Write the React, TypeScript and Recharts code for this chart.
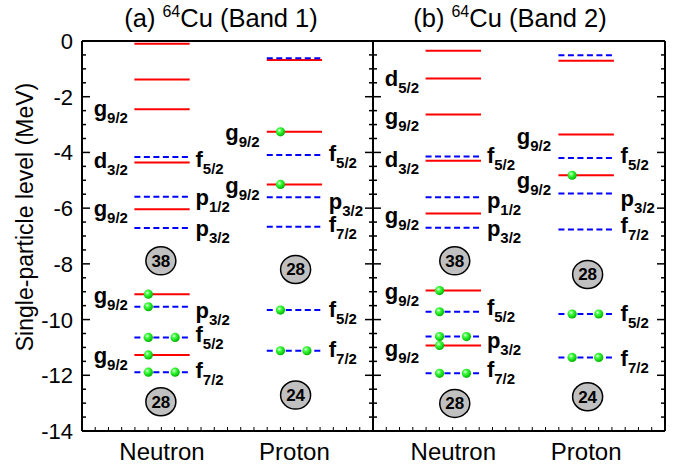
import React from 'react';
import { ComposedChart, XAxis, YAxis, ReferenceLine, Scatter } from 'recharts';

const FONT = '"Liberation Sans", Arial, Helvetica, sans-serif';

// ---------- axes ----------
const yDomain: [number, number] = [-14, 0];
const yTicks = [0, -0.5, -1, -1.5, -2, -2.5, -3, -3.5, -4, -4.5, -5, -5.5, -6, -6.5, -7, -7.5, -8, -8.5, -9, -9.5, -10, -10.5, -11, -11.5, -12, -12.5, -13, -13.5, -14];
const xDomain: [number, number] = [0, 100];
const xMinorTicks = [0, 4.545, 9.091, 13.636, 18.182, 22.727, 27.273, 31.818, 36.364, 40.909, 45.455, 50, 54.545, 59.091, 63.636, 68.182, 72.727, 77.273, 81.818, 86.364, 90.909, 95.455, 100];
const categories = ['Neutron', 'Proton'];
const categoryX = [27.5, 73];

// level spans and fixed slots (in panel x units)
const neutronSpan = [18, 37];
const protonSpan = [63.5, 82.5];
const neutronDotX = [22.8, 32.0];
const protonDotX = [68.2, 77.3];
const labelX = { neutronLeft: 15.8, neutronRight: 39.0, protonLeft: 61.0, protonRight: 84.8 };

// ---------- Band 1 ----------
const b1NeutronSolid = [-0.1, -1.38, -2.45, -4.36, -6.04, -9.09, -11.27];
const b1NeutronDashed = [-4.16, -5.59, -6.71, -9.54, -10.64, -11.89];
const b1ProtonSolid = [-0.68, -3.26, -5.15];
const b1ProtonDashed = [-0.62, -4.09, -5.61, -6.67, -9.66, -11.12];
const b1NeutronDots: [number, number][] = [[-9.09, 1], [-9.54, 1], [-10.64, 2], [-11.27, 1], [-11.89, 2]];
const b1ProtonDots: [number, number][] = [[-3.26, 1], [-5.15, 1], [-9.66, 1], [-11.12, 2]];
const b1NeutronLeft: [string, string, number][] = [['g', '9/2', -2.48], ['d', '3/2', -4.34], ['g', '9/2', -6.07], ['g', '9/2', -9.18], ['g', '9/2', -11.33]];
const b1NeutronRight: [string, string, number][] = [['f', '5/2', -4.30], ['p', '1/2', -5.67], ['p', '3/2', -6.78], ['p', '3/2', -9.73], ['f', '5/2', -10.58], ['f', '7/2', -11.87]];
const b1ProtonLeft: [string, string, number][] = [['g', '9/2', -3.35], ['g', '9/2', -5.23]];
const b1ProtonRight: [string, string, number][] = [['f', '5/2', -4.08], ['p', '3/2', -5.82], ['f', '7/2', -6.64], ['f', '5/2', -9.68], ['f', '7/2', -11.12]];
const b1Magic: [number, number, string][] = [[27.1, -7.89, '38'], [27.1, -12.95, '28'], [73.4, -8.2, '28'], [73.4, -12.71, '24']];

// ---------- Band 2 ----------
const b2NeutronSolid = [-0.35, -1.35, -2.64, -4.30, -6.19, -8.96, -10.93];
const b2NeutronDashed = [-4.15, -5.61, -6.70, -9.72, -10.61, -11.93];
const b2ProtonSolid = [-0.71, -3.36, -4.82];
const b2ProtonDashed = [-0.51, -4.20, -5.47, -6.77, -9.80, -11.36];
const b2NeutronDots: [number, number][] = [[-8.96, 1], [-9.72, 1], [-10.61, 2], [-10.93, 1], [-11.93, 2]];
const b2ProtonDots: [number, number][] = [[-4.82, 1], [-9.80, 2], [-11.36, 2]];
const b2NeutronLeft: [string, string, number][] = [['d', '5/2', -1.40], ['g', '9/2', -2.78], ['d', '3/2', -4.30], ['g', '9/2', -6.31], ['g', '9/2', -9.06], ['g', '9/2', -11.09]];
const b2NeutronRight: [string, string, number][] = [['f', '5/2', -4.15], ['p', '1/2', -5.77], ['p', '3/2', -6.78], ['f', '5/2', -9.62], ['p', '3/2', -10.79], ['f', '7/2', -11.83]];
const b2ProtonLeft: [string, string, number][] = [['g', '9/2', -3.49], ['g', '9/2', -5.05]];
const b2ProtonRight: [string, string, number][] = [['f', '5/2', -4.18], ['p', '3/2', -5.71], ['f', '7/2', -6.69], ['f', '5/2', -9.84], ['f', '7/2', -11.45]];
const b2Magic: [number, number, string][] = [[28.0, -7.89, '38'], [28.0, -13.01, '28'], [73.5, -8.38, '28'], [73.5, -12.77, '24']];

// ---------- shapes ----------
const DotShape = (p: any) => {
  const { cx, cy } = p;
  return (
    <g>
      <defs>
        <radialGradient id="greenBall" cx="38%" cy="35%" r="65%">
          <stop offset="0%" stopColor="#eaffea" />
          <stop offset="35%" stopColor="#3dff3d" />
          <stop offset="100%" stopColor="#00b400" />
        </radialGradient>
      </defs>
      <circle cx={cx} cy={cy} r={4.6} fill="url(#greenBall)" />
    </g>
  );
};

const LabelShape = (p: any) => {
  const { cx, cy, payload } = p;
  return (
    <text x={cx} y={cy + 6} textAnchor={payload.anchor} fontFamily={FONT} fontWeight="bold" fill="#000">
      <tspan fontSize={22}>{payload.m}</tspan>
      <tspan fontSize={15} dy={7}>{payload.s}</tspan>
    </text>
  );
};

const MagicShape = (p: any) => {
  const { cx, cy, payload } = p;
  return (
    <g>
      <ellipse cx={cx} cy={cy} rx={15} ry={14} fill="#c0c0c0" stroke="#000" strokeWidth={1.5} />
      <text x={cx} y={cy + 6} textAnchor="middle" fontFamily={FONT} fontWeight="bold" fontSize={17} fill="#000">{payload.n}</text>
    </g>
  );
};

const makeYTick = (dir: number, withLabels: boolean) => (props: any) => {
  const { x, y, payload } = props;
  const v = payload.value;
  const major = Math.abs(v % 2) < 1e-6;
  const len = major ? 8 : 4;
  return (
    <g>
      <line x1={x} y1={y} x2={x + dir * len} y2={y} stroke="#000" strokeWidth={1.5} />
      {withLabels && major ? (
        <text x={x - 9} y={y + 8} textAnchor="end" fontFamily={FONT} fontSize={22} fill="#000">{v}</text>
      ) : null}
    </g>
  );
};

const makeXTick = (dir: number, withLabels: boolean) => (props: any) => {
  const { x, y, payload } = props;
  const v = payload.value;
  const idx = categoryX.indexOf(v);
  if (idx >= 0) {
    return withLabels ? (
      <text x={x} y={y + 29} textAnchor="middle" fontFamily={FONT} fontSize={24} fill="#000">{categories[idx]}</text>
    ) : <g />;
  }
  return <line x1={x} y1={y} x2={x} y2={y + dir * 4} stroke="#000" strokeWidth={1} />;
};

interface PanelProps {
  nSolid: number[]; nDashed: number[]; pSolid: number[]; pDashed: number[];
  nDots: [number, number][]; pDots: [number, number][];
  nLeft: [string, string, number][]; nRight: [string, string, number][];
  pLeft: [string, string, number][]; pRight: [string, string, number][];
  magic: [number, number, string][];
  width: number; leftW: number; rightW: number; showYLabels: boolean;
}

const Panel = (pr: PanelProps) => {
  const dots = [
    ...pr.nDots.flatMap(([y, n]) => neutronDotX.slice(0, n).map((x) => ({ x, y }))),
    ...pr.pDots.flatMap(([y, n]) => protonDotX.slice(0, n).map((x) => ({ x, y }))),
  ];
  const labels = [
    ...pr.nLeft.map(([m, s, y]) => ({ x: labelX.neutronLeft, y, m, s, anchor: 'end' })),
    ...pr.nRight.map(([m, s, y]) => ({ x: labelX.neutronRight, y, m, s, anchor: 'start' })),
    ...pr.pLeft.map(([m, s, y]) => ({ x: labelX.protonLeft, y, m, s, anchor: 'end' })),
    ...pr.pRight.map(([m, s, y]) => ({ x: labelX.protonRight, y, m, s, anchor: 'start' })),
  ];
  const magic = pr.magic.map(([x, y, n]) => ({ x, y, n }));
  const seg = (span: number[], y: number) => [{ x: span[0], y }, { x: span[1], y }] as any;
  const axisLine = { stroke: '#000', strokeWidth: 2 };
  return (
    <ComposedChart width={pr.width} height={465} margin={{ top: 40, right: 0, bottom: 0, left: 0 }}>
      <XAxis xAxisId="b" dataKey="x" type="number" domain={xDomain} allowDataOverflow orientation="bottom" height={34}
        ticks={[...xMinorTicks, ...categoryX]} interval={0} tickSize={0} tickMargin={0} tickLine={false}
        axisLine={axisLine} tick={makeXTick(-1, true)} />
      <XAxis xAxisId="t" type="number" domain={xDomain} allowDataOverflow orientation="top" height={1}
        ticks={xMinorTicks} interval={0} tickSize={0} tickMargin={0} tickLine={false}
        axisLine={axisLine} tick={makeXTick(1, false)} />
      <YAxis yAxisId="l" dataKey="y" type="number" domain={yDomain} allowDataOverflow orientation="left" width={pr.leftW}
        ticks={yTicks} interval={0} tickSize={0} tickMargin={0} tickLine={false}
        axisLine={axisLine} tick={makeYTick(1, pr.showYLabels)} />
      <YAxis yAxisId="r" type="number" domain={yDomain} allowDataOverflow orientation="right" width={pr.rightW}
        ticks={yTicks} interval={0} tickSize={0} tickMargin={0} tickLine={false}
        axisLine={axisLine} tick={makeYTick(-1, false)} />
      {pr.nSolid.map((y, i) => (
        <ReferenceLine key={'ns' + i} xAxisId="b" yAxisId="l" segment={seg(neutronSpan, y)} stroke="#ff0000" strokeWidth={2} />
      ))}
      {pr.pSolid.map((y, i) => (
        <ReferenceLine key={'ps' + i} xAxisId="b" yAxisId="l" segment={seg(protonSpan, y)} stroke="#ff0000" strokeWidth={2} />
      ))}
      {pr.nDashed.map((y, i) => (
        <ReferenceLine key={'nd' + i} xAxisId="b" yAxisId="l" segment={seg(neutronSpan, y)} stroke="#0000ff" strokeWidth={2} strokeDasharray="6 3.5" />
      ))}
      {pr.pDashed.map((y, i) => (
        <ReferenceLine key={'pd' + i} xAxisId="b" yAxisId="l" segment={seg(protonSpan, y)} stroke="#0000ff" strokeWidth={2} strokeDasharray="6 3.5" />
      ))}
      <Scatter xAxisId="b" yAxisId="l" data={dots} shape={DotShape} isAnimationActive={false} />
      <Scatter xAxisId="b" yAxisId="l" data={labels} shape={LabelShape} isAnimationActive={false} />
      <Scatter xAxisId="b" yAxisId="l" data={magic} shape={MagicShape} isAnimationActive={false} />
    </ComposedChart>
  );
};

export default function App() {
  return (
    <div style={{ position: 'absolute', left: 0, top: 0, width: 685, height: 465, background: '#fff' }}>
      <div style={{ position: 'absolute', left: 0, top: 0 }}>
        <Panel nSolid={b1NeutronSolid} nDashed={b1NeutronDashed} pSolid={b1ProtonSolid} pDashed={b1ProtonDashed}
          nDots={b1NeutronDots} pDots={b1ProtonDots} nLeft={b1NeutronLeft} nRight={b1NeutronRight}
          pLeft={b1ProtonLeft} pRight={b1ProtonRight} magic={b1Magic}
          width={374} leftW={82} rightW={1} showYLabels={true} />
      </div>
      <div style={{ position: 'absolute', left: 372, top: 0 }}>
        <Panel nSolid={b2NeutronSolid} nDashed={b2NeutronDashed} pSolid={b2ProtonSolid} pDashed={b2ProtonDashed}
          nDots={b2NeutronDots} pDots={b2ProtonDots} nLeft={b2NeutronLeft} nRight={b2NeutronRight}
          pLeft={b2ProtonLeft} pRight={b2ProtonRight} magic={b2Magic}
          width={313} leftW={1} rightW={20} showYLabels={false} />
      </div>
      <svg width={685} height={465} style={{ position: 'absolute', left: 0, top: 0, pointerEvents: 'none' }}>
        <text x={221} y={27} textAnchor="middle" fontFamily={FONT} fontSize={25.5} fill="#000">
          {'(a) '}<tspan fontSize={16} dy={-10}>64</tspan><tspan dy={10}>Cu (Band 1)</tspan>
        </text>
        <text x={510} y={27} textAnchor="middle" fontFamily={FONT} fontSize={25.5} fill="#000">
          {'(b) '}<tspan fontSize={16} dy={-10}>64</tspan><tspan dy={10}>Cu (Band 2)</tspan>
        </text>
        <text transform="translate(33,217) rotate(-90)" textAnchor="middle" fontFamily={FONT} fontSize={23} fill="#000">
          Single-particle level (MeV)
        </text>
      </svg>
    </div>
  );
}
